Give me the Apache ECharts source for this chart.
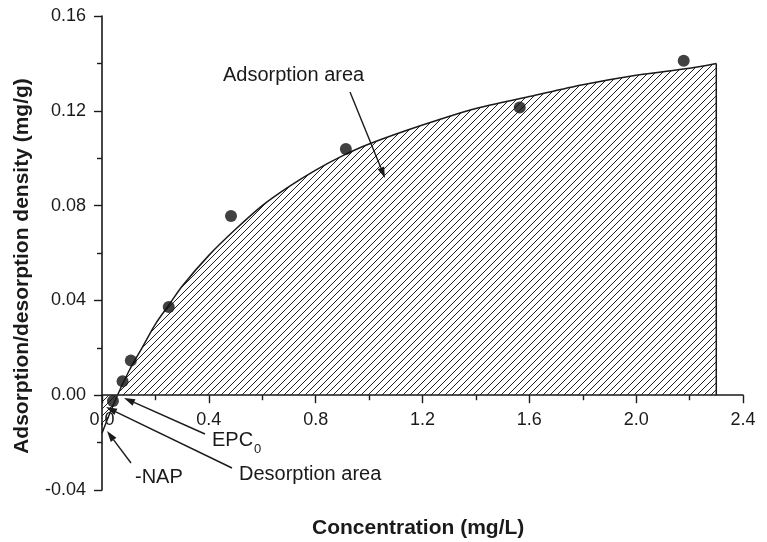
<!DOCTYPE html>
<html>
<head>
<meta charset="utf-8">
<script src="https://cdn.jsdelivr.net/npm/echarts@6/dist/echarts.min.js"></script>
<style>
  html, body { margin: 0; padding: 0; background: #fff; }
  #chart { width: 767px; height: 542px; }
</style>
</head>
<body>
<div id="chart"></div>
<script>
// measured points
const pointX = [0.041, 0.077, 0.108, 0.25, 0.483, 0.913, 1.564, 2.178];
const pointY = [-0.0024, 0.0059, 0.0146, 0.0372, 0.0756, 0.1039, 0.1214, 0.1411];

// fitted curve
const curveX = [0, 0.05, 0.1, 0.15, 0.2, 0.25, 0.3, 0.4, 0.5, 0.6, 0.7, 0.8, 0.9, 1.0, 1.2, 1.4, 1.6, 1.8, 2.0, 2.2, 2.3];
const curveY = [-0.016, -0.002, 0.010, 0.020, 0.030, 0.038, 0.046, 0.059, 0.070, 0.080, 0.088, 0.095, 0.101, 0.106, 0.114, 0.121, 0.126, 0.131, 0.135, 0.138, 0.140];

// right edge of the hatched area
const edgeX = [2.3, 2.3];
const edgeY = [0, 0.140];

const xTicks = ["0.0", "0.4", "0.8", "1.2", "1.6", "2.0", "2.4"];
const yTicks = ["-0.04", "0.00", "0.04", "0.08", "0.12", "0.16"];

const ink = "#1a1a1a";
const font = "Arial, 'Liberation Sans', sans-serif";

const gridTop = 16, gridBottom = 52, H = 542;
// x axis sits on y = 0, one interval (of five) above the bottom
const xAxisLift = (H - gridTop - gridBottom) / 5;

// diagonal hatch
const hatch = document.createElement("canvas");
hatch.width = 7;
hatch.height = 7;
const hc = hatch.getContext("2d");
hc.strokeStyle = "#222";
hc.lineWidth = 1;
hc.beginPath();
hc.moveTo(-1, 8); hc.lineTo(8, -1);
hc.moveTo(-1, 1); hc.lineTo(1, -1);
hc.moveTo(6, 8); hc.lineTo(8, 6);
hc.stroke();

function arrow(x1, y1, x2, y2) {
  const a = Math.atan2(y2 - y1, x2 - x1);
  const len = 11, w = 3.5;
  const bx = x2 - len * Math.cos(a), by = y2 - len * Math.sin(a);
  return [
    { type: "line", shape: { x1: x1, y1: y1, x2: bx, y2: by }, style: { stroke: ink, lineWidth: 1.4 } },
    { type: "polygon", shape: { points: [[x2, y2],
        [bx + w * Math.sin(a), by - w * Math.cos(a)],
        [bx - w * Math.sin(a), by + w * Math.cos(a)]] }, style: { fill: ink } }
  ];
}

function label(text, x, y, size) {
  return {
    type: "text", x: x, y: y,
    style: { text: text, font: size + "px " + font, fill: ink, textAlign: "left", textVerticalAlign: "middle" }
  };
}

const myChart = echarts.init(document.getElementById("chart"));
const option = {
  animation: false,
  grid: { left: 102, right: 24, top: gridTop, bottom: gridBottom },
  xAxis: {
    type: "value", min: 0, max: 2.4, interval: 0.4,
    offset: -xAxisLift,
    axisLine: { onZero: false, lineStyle: { color: ink, width: 1.6 } },
    axisTick: { length: 8, lineStyle: { color: ink, width: 1.4 } },
    minorTick: { show: true, splitNumber: 2, length: 5, lineStyle: { color: ink, width: 1.4 } },
    splitLine: { show: false },
    axisLabel: {
      margin: 16, color: ink, fontSize: 18, fontFamily: font,
      formatter: (v) => xTicks[Math.round(v / 0.4)]
    }
  },
  yAxis: {
    type: "value", min: -0.04, max: 0.16, interval: 0.04,
    axisLine: { show: true, lineStyle: { color: ink, width: 1.6 } },
    axisTick: { show: true, length: 8, lineStyle: { color: ink, width: 1.4 } },
    minorTick: { show: true, splitNumber: 2, length: 5, lineStyle: { color: ink, width: 1.4 } },
    splitLine: { show: false },
    axisLabel: {
      margin: 16, color: ink, fontSize: 18, fontFamily: font,
      formatter: (v) => yTicks[Math.round((v + 0.04) / 0.04)]
    }
  },
  series: [
    {
      type: "line",
      data: curveX.map((x, i) => [x, curveY[i]]),
      smooth: 0.3,
      showSymbol: false,
      lineStyle: { color: ink, width: 1.5 },
      areaStyle: { color: { image: hatch, repeat: "repeat" }, opacity: 1, origin: 0 },
      z: 2
    },
    {
      type: "line",
      data: edgeX.map((x, i) => [x, edgeY[i]]),
      showSymbol: false,
      lineStyle: { color: ink, width: 1.5 },
      z: 2
    },
    {
      type: "scatter",
      data: pointX.map((x, i) => [x, pointY[i]]),
      symbol: "circle",
      symbolSize: 12,
      itemStyle: { color: "#111" },
      z: 5
    }
  ],
  graphic: [
    label("Adsorption area", 223, 75, 20),
    ...arrow(350, 92, 385, 178),
    label("EPC", 212, 440, 20),
    label("0", 254, 449, 13),
    ...arrow(205, 434, 124, 398),
    label("Desorption area", 239, 474, 20),
    ...arrow(232, 468, 106, 407),
    label("-NAP", 135, 477, 20),
    ...arrow(131, 463, 107, 431),
    {
      type: "text", x: 312, y: 528,
      style: { text: "Concentration (mg/L)", font: "bold 21px " + font, fill: ink, textAlign: "left", textVerticalAlign: "middle" }
    },
    {
      type: "text", x: 22, y: 266, rotation: Math.PI / 2,
      style: { text: "Adsorption/desorption density (mg/g)", font: "bold 21px " + font, fill: ink, textAlign: "center", textVerticalAlign: "middle" }
    }
  ]
};
myChart.setOption(option);
window.onresize = function () {
  myChart.resize();
};
</script>
</body>
</html>
